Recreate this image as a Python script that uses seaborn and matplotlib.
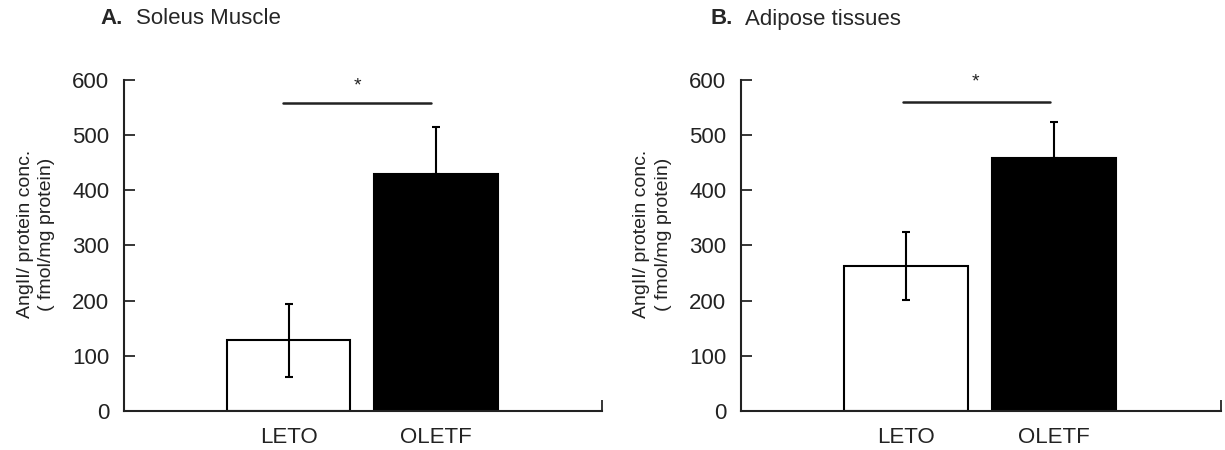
import matplotlib
matplotlib.use("Agg")
import matplotlib.pyplot as plt
import seaborn as sns
import numpy as np

sns.set_theme(style="ticks")
plt.rcParams["font.family"] = ["Liberation Sans", "DejaVu Sans"]

groups = ["LETO", "OLETF"]
bar_colors = ["white", "black"]

soleus_mean = [128, 429]
soleus_err_low = [66, 0]
soleus_err_high = [66, 85]
soleus_sig_y = 558
soleus_star_y = 589

adipose_mean = [263, 459]
adipose_err_low = [62, 0]
adipose_err_high = [62, 64]
adipose_sig_y = 561
adipose_star_y = 596

yticks = [0, 100, 200, 300, 400, 500, 600]
ylabel = "AngII/ protein conc.\n( fmol/mg protein)"

fig = plt.figure(figsize=(12.25, 4.5), dpi=100)
ax_a = fig.add_axes([124 / 1225, 1 - 411 / 450, 478 / 1225, 331 / 450])
ax_b = fig.add_axes([741 / 1225, 1 - 411 / 450, 480 / 1225, 331 / 450])

panels = [
    (ax_a, soleus_mean, soleus_err_low, soleus_err_high, soleus_sig_y, soleus_star_y, (-0.04, 0.97)),
    (ax_b, adipose_mean, adipose_err_low, adipose_err_high, adipose_sig_y, adipose_star_y, (-0.02, 0.97)),
]

x_min, x_max = -1.12, 2.13

for ax, means, err_lo, err_hi, sig_y, star_y, sig_x in panels:
    sns.barplot(x=groups, y=means, hue=groups, palette=bar_colors, legend=False,
                edgecolor="black", linewidth=1.5, width=0.84, saturation=1, ax=ax)
    ax.errorbar(np.arange(len(groups)), means, yerr=[err_lo, err_hi], fmt="none",
                ecolor="black", elinewidth=1.5, capsize=3, capthick=1.5, zorder=5)
    ax.plot(list(sig_x), [sig_y, sig_y], color="#222222", lw=1.8, clip_on=False)
    ax.text(0.47, star_y, "*", ha="center", va="center", fontsize=14, color="#222222")

    ax.set_xlim(x_min, x_max)
    ax.set_ylim(0, 600)
    ax.set_yticks(yticks)
    ax.set_yticklabels([str(t) for t in yticks], fontsize=16, color="#222222")
    ax.tick_params(axis="y", direction="in", length=8, width=1.3, pad=10.5)
    ax.tick_params(axis="x", length=0, pad=11.5, labelsize=16, labelcolor="#222222")
    ax.set_xticks([x_max], minor=True)
    ax.tick_params(axis="x", which="minor", direction="in", length=8, width=1.3)
    ax.set_xlabel("")
    ax.set_ylabel(ylabel, fontsize=14, color="#222222", linespacing=1.35)
    ax.yaxis.set_label_coords(-0.144, 0.535)
    for side in ["left", "bottom"]:
        ax.spines[side].set_linewidth(1.5)
        ax.spines[side].set_color("#222222")
    sns.despine(ax=ax)

title_y = 1 - 19 / 450
fig.text(100 / 1225, title_y, "A.", fontsize=16, fontweight="bold", va="center")
fig.text(136 / 1225, title_y, "Soleus Muscle", fontsize=16, va="center")
fig.text(711 / 1225, title_y, "B.", fontsize=16, fontweight="bold", va="center")
fig.text(745 / 1225, title_y, "Adipose tissues", fontsize=16, va="center")

fig.savefig("out.png", dpi=100)
plt.close(fig)
